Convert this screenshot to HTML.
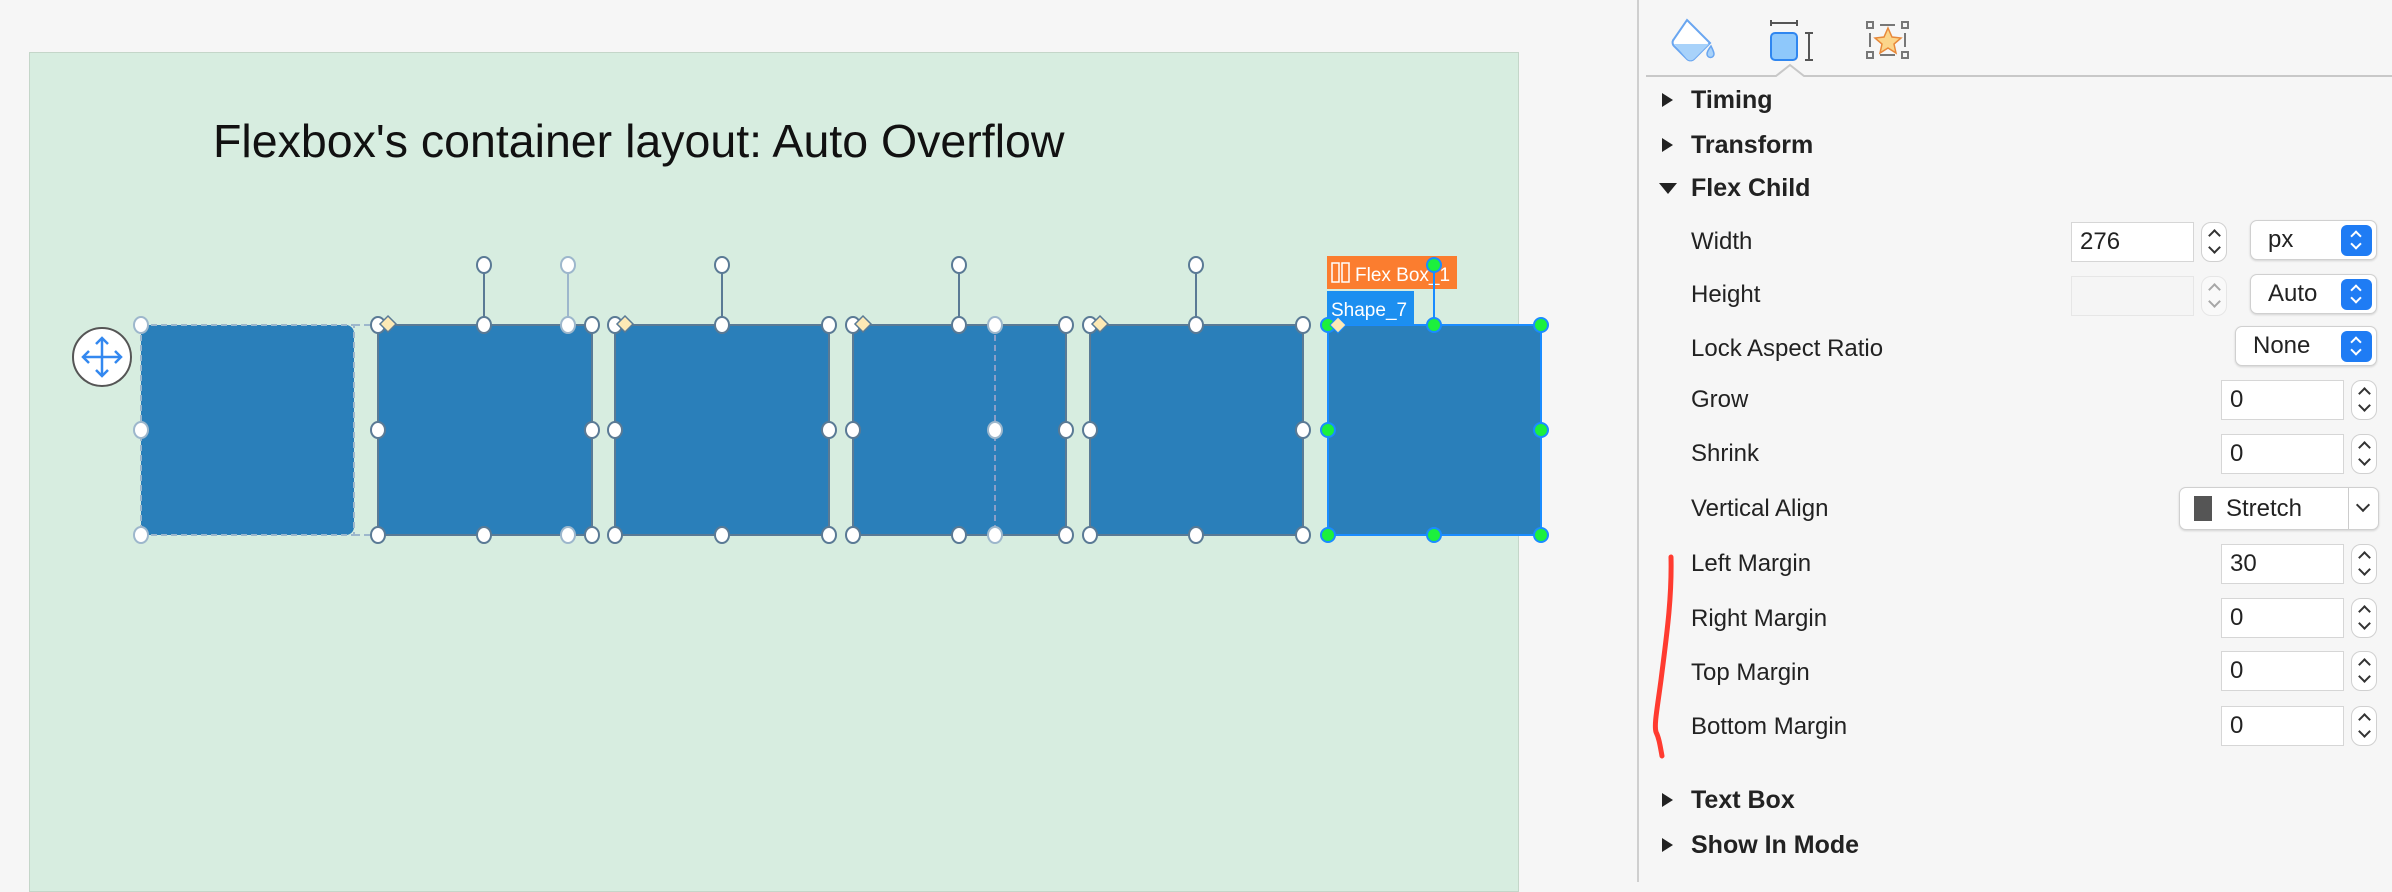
<!DOCTYPE html>
<html><head><meta charset="utf-8"><style>
*{margin:0;padding:0;box-sizing:border-box}
body{width:2392px;height:882px;background:#f6f6f6;position:relative;overflow:hidden;font-family:"Liberation Sans",Helvetica,Arial,sans-serif}
.a{position:absolute}
.h{position:absolute;left:1691px;font-size:25px;font-weight:bold;color:#222;line-height:30px}
.l{position:absolute;left:1691px;font-size:24px;color:#222;line-height:30px}
.tri{position:absolute;left:1662px;width:0;height:0;border-top:7px solid transparent;border-bottom:7px solid transparent;border-left:11px solid #222}
.inp{position:absolute;background:#fff;border:1px solid #d6d6d6;font-size:24px;color:#222;padding-left:8px;line-height:38px}
.st{position:absolute;width:26px;height:40px;border:1px solid #d0d0d0;border-radius:10px;background:#fff}
.st:before{content:"";position:absolute;left:8px;top:8px;width:7px;height:7px;border-left:2px solid #333;border-top:2px solid #333;transform:rotate(45deg)}
.st:after{content:"";position:absolute;left:8px;top:20px;width:7px;height:7px;border-right:2px solid #333;border-bottom:2px solid #333;transform:rotate(45deg)}
.pop{position:absolute;background:#fff;border:1px solid #d0d0d0;border-radius:7px;box-shadow:0 1px 2px rgba(0,0,0,.15);font-size:24px;color:#222;line-height:38px}
.pb{position:absolute;right:4px;top:4px;width:31px;height:31px;background:#1f7cf4;border-radius:6px}
.pb:before{content:"";position:absolute;left:11px;top:7px;width:6px;height:6px;border-left:2px solid #fff;border-top:2px solid #fff;transform:rotate(45deg)}
.pb:after{content:"";position:absolute;left:11px;top:15px;width:6px;height:6px;border-right:2px solid #fff;border-bottom:2px solid #fff;transform:rotate(45deg)}
</style></head><body>
<div class="a" style="left:29px;top:52px;width:1490px;height:840px;background:#d7ede0;border:1px solid #c4d6c9"></div>
<div class="a" style="left:213px;top:114px;font-size:46.5px;color:#111;white-space:nowrap;line-height:54px">Flexbox's container layout: Auto Overflow</div>
<svg class="a" style="left:0;top:0" width="1600" height="882">
<rect x="141" y="325" width="213" height="210" rx="8" fill="#2a7fba"/>
<rect x="141" y="325" width="213" height="210" fill="none" stroke="#9db7cc" stroke-width="2" stroke-dasharray="6 4"/>
<line x1="354" y1="325" x2="378" y2="325" stroke="#9db7cc" stroke-width="2" stroke-dasharray="6 4"/>
<line x1="354" y1="535" x2="378" y2="535" stroke="#9db7cc" stroke-width="2" stroke-dasharray="6 4"/>
<g fill="#2a7fba" stroke="#5a7a95" stroke-width="2">
<rect x="378" y="325" width="214" height="210"/><rect x="615" y="325" width="214" height="210"/><rect x="853" y="325" width="213" height="210"/><rect x="1090" y="325" width="213" height="210"/>
</g>
<line x1="995" y1="325" x2="995" y2="535" stroke="#aac" stroke-width="1.5" stroke-dasharray="6 4"/>
<rect x="1328" y="325" width="213" height="210" fill="#2a7fba" stroke="#1a8cff" stroke-width="2"/>
<g stroke="#5a7a95" stroke-width="2" fill="#fff">
<line x1="484" y1="265" x2="484" y2="325"/><line x1="722" y1="265" x2="722" y2="325"/><line x1="959" y1="265" x2="959" y2="325"/><line x1="1196" y1="265" x2="1196" y2="325"/>
<line x1="568" y1="265" x2="568" y2="325" stroke="#9db7cc"/>
<ellipse cx="568" cy="265" rx="7" ry="8" stroke="#9db7cc"/>
<ellipse cx="484" cy="265" rx="7" ry="8"/><ellipse cx="722" cy="265" rx="7" ry="8"/><ellipse cx="959" cy="265" rx="7" ry="8"/><ellipse cx="1196" cy="265" rx="7" ry="8"/>
<g stroke="#9db7cc">
<ellipse cx="141" cy="325" rx="7" ry="8"/><ellipse cx="141" cy="430" rx="7" ry="8"/><ellipse cx="141" cy="535" rx="7" ry="8"/>
<ellipse cx="568" cy="325" rx="7" ry="8"/><ellipse cx="568" cy="535" rx="7" ry="8"/>
<ellipse cx="995" cy="325" rx="7" ry="8"/><ellipse cx="995" cy="430" rx="7" ry="8"/><ellipse cx="995" cy="535" rx="7" ry="8"/>
</g>
<ellipse cx="378" cy="325" rx="7" ry="8"/><ellipse cx="378" cy="430" rx="7" ry="8"/><ellipse cx="378" cy="535" rx="7" ry="8"/><ellipse cx="484" cy="325" rx="7" ry="8"/><ellipse cx="484" cy="535" rx="7" ry="8"/><ellipse cx="592" cy="325" rx="7" ry="8"/><ellipse cx="592" cy="430" rx="7" ry="8"/><ellipse cx="592" cy="535" rx="7" ry="8"/>
<ellipse cx="615" cy="325" rx="7" ry="8"/><ellipse cx="615" cy="430" rx="7" ry="8"/><ellipse cx="615" cy="535" rx="7" ry="8"/><ellipse cx="722" cy="325" rx="7" ry="8"/><ellipse cx="722" cy="535" rx="7" ry="8"/><ellipse cx="829" cy="325" rx="7" ry="8"/><ellipse cx="829" cy="430" rx="7" ry="8"/><ellipse cx="829" cy="535" rx="7" ry="8"/>
<ellipse cx="853" cy="325" rx="7" ry="8"/><ellipse cx="853" cy="430" rx="7" ry="8"/><ellipse cx="853" cy="535" rx="7" ry="8"/><ellipse cx="959" cy="325" rx="7" ry="8"/><ellipse cx="959" cy="535" rx="7" ry="8"/><ellipse cx="1066" cy="325" rx="7" ry="8"/><ellipse cx="1066" cy="430" rx="7" ry="8"/><ellipse cx="1066" cy="535" rx="7" ry="8"/>
<ellipse cx="1090" cy="325" rx="7" ry="8"/><ellipse cx="1090" cy="430" rx="7" ry="8"/><ellipse cx="1090" cy="535" rx="7" ry="8"/><ellipse cx="1196" cy="325" rx="7" ry="8"/><ellipse cx="1196" cy="535" rx="7" ry="8"/><ellipse cx="1303" cy="325" rx="7" ry="8"/><ellipse cx="1303" cy="430" rx="7" ry="8"/><ellipse cx="1303" cy="535" rx="7" ry="8"/>
</g>
<g fill="#fde9b5" stroke="#5a7a95" stroke-width="1.5">
<path d="M388 316l8 8-8 8-8-8z"/><path d="M625 316l8 8-8 8-8-8z"/><path d="M863 316l8 8-8 8-8-8z"/><path d="M1100 316l8 8-8 8-8-8z"/>
</g>
<rect x="1327" y="256" width="130" height="33" fill="#fb7d2f"/>
<rect x="1332" y="263" width="7" height="19" fill="none" stroke="#fff" stroke-width="1.5"/><rect x="1342" y="263" width="7" height="19" fill="none" stroke="#fff" stroke-width="1.5"/>
<text x="1355" y="281" font-size="19" fill="#fff" font-family="Liberation Sans">Flex Box_1</text>
<rect x="1327" y="291" width="87" height="34" fill="#1c8ff0"/>
<text x="1331" y="316" font-size="19" fill="#fff" font-family="Liberation Sans">Shape_7</text>
<g stroke="#1a8cff" stroke-width="2" fill="#1cf03c">
<line x1="1434" y1="265" x2="1434" y2="325"/>
<circle cx="1434" cy="265" r="7"/><circle cx="1328" cy="325" r="7"/><circle cx="1434" cy="325" r="7"/><circle cx="1541" cy="325" r="7"/>
<circle cx="1328" cy="430" r="7"/><circle cx="1541" cy="430" r="7"/><circle cx="1328" cy="535" r="7"/><circle cx="1434" cy="535" r="7"/><circle cx="1541" cy="535" r="7"/>
</g>
<path d="M1338 317l8 8-8 8-8-8z" fill="#fde9b5" stroke="#1a8cff" stroke-width="1"/>
<circle cx="102" cy="357" r="29" fill="#fff" stroke="#555" stroke-width="2"/>
<g stroke="#3388f0" stroke-width="2.5" fill="none"><line x1="84" y1="357" x2="120" y2="357"/><line x1="102" y1="339" x2="102" y2="375"/><path d="M89 351l-6 6 6 6M115 351l6 6-6 6M96 344l6-6 6 6M96 370l6 6 6-6"/></g>
</svg>
<div class="a" style="left:1637px;top:0;width:2px;height:882px;background:#cfcfcf"></div>
<svg class="a" style="left:1640px;top:0" width="752" height="90">
<path d="M6 76H136L150 65L164 76H752" fill="none" stroke="#c8c8c8" stroke-width="2"/>
<g transform="translate(0,8)">
<path d="M47 12l23 23-16 16a5 5 0 0 1-7 0l-13-13a5 5 0 0 1 0-7z" fill="#fff" stroke="#6aa6f0" stroke-width="2"/>
<path d="M34 36l35 0-15 15a5 5 0 0 1-7 0z" fill="#a8d2fa"/>
<path d="M71 38c-3 4-4 6-4 8a3 3 0 0 0 7 0c0-2-1-4-3-8z" fill="#a8d2fa" stroke="#6aa6f0" stroke-width="1.5"/>
<rect x="131" y="25" width="26" height="27" rx="4" fill="#8ec8fb" stroke="#2f86f0" stroke-width="2"/>
<path d="M131 12v6M157 12v6M131 15h26M165 25h8M165 52h8M169 25v27" stroke="#555" stroke-width="2"/>
<g fill="none" stroke="#777" stroke-width="2"><rect x="227" y="14" width="6" height="6"/><rect x="262" y="14" width="6" height="6"/><rect x="227" y="44" width="6" height="6"/><rect x="262" y="44" width="6" height="6"/><path d="M240 17h15M240 47h15M230 25v14M265 25v14"/></g>
<path d="M248 20l4 9 9 1-7 6 2 9-8-5-8 5 2-9-7-6 9-1z" fill="#fbd58a" stroke="#e8893a" stroke-width="1.5"/>
</g>
</svg>
<div class="tri" style="top:93px"></div><div class="h" style="top:85px">Timing</div>
<div class="tri" style="top:138px"></div><div class="h" style="top:130px">Transform</div>
<div class="a" style="left:1659px;top:183px;border-left:9px solid transparent;border-right:9px solid transparent;border-top:11px solid #222"></div><div class="h" style="top:173px">Flex Child</div>
<div class="l" style="top:227px">Width</div>
<div class="l" style="top:280px">Height</div>
<div class="l" style="top:334px">Lock Aspect Ratio</div>
<div class="l" style="top:385px">Grow</div>
<div class="l" style="top:439px">Shrink</div>
<div class="l" style="top:494px">Vertical Align</div>
<div class="l" style="top:549px">Left Margin</div>
<div class="l" style="top:604px">Right Margin</div>
<div class="l" style="top:658px">Top Margin</div>
<div class="l" style="top:712px">Bottom Margin</div>
<div class="tri" style="top:793px"></div><div class="h" style="top:785px">Text Box</div>
<div class="tri" style="top:838px"></div><div class="h" style="top:830px">Show In Mode</div>
<div class="inp" style="left:2071px;top:222px;width:123px;height:40px">276</div><div class="st" style="left:2201px;top:222px"></div>
<div class="pop" style="left:2250px;top:220px;width:127px;height:40px;padding-left:17px">px<div class="pb"></div></div>
<div class="inp" style="left:2071px;top:276px;width:123px;height:40px;background:#f5f5f5;border-color:#e6e6e6"></div><div class="st" style="left:2201px;top:276px;opacity:.4"></div>
<div class="pop" style="left:2250px;top:274px;width:127px;height:40px;padding-left:17px">Auto<div class="pb"></div></div>
<div class="pop" style="left:2235px;top:326px;width:142px;height:40px;padding-left:17px">None<div class="pb"></div></div>
<div class="inp" style="left:2221px;top:380px;width:123px;height:40px">0</div><div class="st" style="left:2351px;top:380px"></div>
<div class="inp" style="left:2221px;top:434px;width:123px;height:40px">0</div><div class="st" style="left:2351px;top:434px"></div>
<div class="pop" style="left:2179px;top:487px;width:200px;height:43px;padding-left:46px;line-height:41px">Stretch
<div class="a" style="left:14px;top:8px;width:18px;height:25px;background:#555"></div>
<div class="a" style="left:168px;top:0;width:1px;height:41px;background:#ccc"></div>
<div class="a" style="left:178px;top:12px;width:10px;height:10px;border-right:2px solid #333;border-bottom:2px solid #333;transform:rotate(45deg)"></div></div>
<div class="inp" style="left:2221px;top:544px;width:123px;height:40px">30</div><div class="st" style="left:2351px;top:544px"></div>
<div class="inp" style="left:2221px;top:598px;width:123px;height:40px">0</div><div class="st" style="left:2351px;top:598px"></div>
<div class="inp" style="left:2221px;top:651px;width:123px;height:40px">0</div><div class="st" style="left:2351px;top:651px"></div>
<div class="inp" style="left:2221px;top:706px;width:123px;height:40px">0</div><div class="st" style="left:2351px;top:706px"></div>
<svg class="a" style="left:1640px;top:540px" width="50" height="230"><path d="M31 17C32 60 26 100 21 140C17 170 14 185 16 192C19 198 20 205 22 216" fill="none" stroke="#ff3b30" stroke-width="5" stroke-linecap="round"/></svg>
</body></html>
